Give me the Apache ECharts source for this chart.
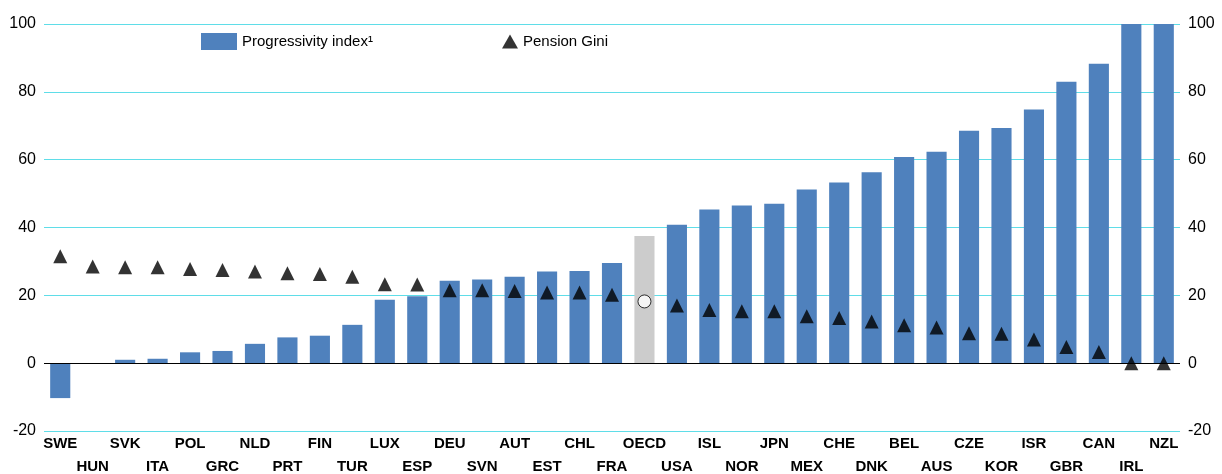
<!DOCTYPE html>
<html><head><meta charset="utf-8">
<script src="https://cdn.jsdelivr.net/npm/echarts@6/dist/echarts.min.js"></script>
<style>html,body{margin:0;padding:0;background:#fff}#c{width:1222px;height:474px}</style>
</head><body><div id="c"></div>
<script>
var countries = ['SWE','HUN','SVK','ITA','POL','GRC','NLD','PRT','FIN','TUR','LUX','ESP','DEU','SVN','AUT','EST','CHL','FRA','OECD','USA','ISL','NOR','JPN','MEX','CHE','DNK','BEL','AUS','CZE','KOR','ISR','GBR','CAN','IRL','NZL'];
var progressivity = [-10.3,0,1,1.3,3.2,3.6,5.7,7.6,8.1,11.3,18.7,19.7,24.3,24.7,25.5,27,27.2,29.5,37.5,40.8,45.3,46.5,47,51.2,53.3,56.3,60.8,62.3,68.5,69.3,74.8,83,88.3,100,100];
var pensionGini = [31.5,28.5,28.3,28.3,27.8,27.5,27,26.5,26.3,25.5,23.3,23.2,21.5,21.5,21.3,20.8,20.8,20.2,18.2,17,15.7,15.3,15.3,13.8,13.3,12.3,11.2,10.5,8.8,8.7,7,4.8,3.3,0,0];

var chart = echarts.init(document.getElementById('c'));
var font = 'Liberation Sans, Arial, sans-serif';
var yAxisCommon = {
  type: 'value', min: -20, max: 100, interval: 20,
  axisLine: {show: false}, axisTick: {show: false},
  axisLabel: {color: '#000', fontSize: 16, fontFamily: font},
  splitLine: {lineStyle: {color: '#5fdde8', width: 1}}
};
var legendText = {fontSize: 15, fontFamily: font, color: '#000'};
chart.setOption({
  animation: false,
  grid: {left: 44, right: 42, top: 24, bottom: 43, outerBoundsMode: 'none'},
  legend: [
    {left: 196, top: 28, itemWidth: 36, itemHeight: 17, itemGap: 8, textStyle: legendText,
     data: [{name: 'Progressivity index¹', icon: 'rect'}]},
    {left: 497, top: 29, itemWidth: 16, itemHeight: 14, textStyle: legendText,
     data: [{name: 'Pension Gini', icon: 'triangle'}]}
  ],
  xAxis: {
    type: 'category', data: countries,
    axisLine: {onZero: false, show: false}, axisTick: {show: false},
    axisLabel: {
      interval: 0, margin: 1, color: '#000', fontSize: 15, fontWeight: 'bold', fontFamily: font, lineHeight: 23,
      formatter: function (v, i) { return i % 2 ? '\n' + v : v; }
    }
  },
  yAxis: [
    Object.assign({}, yAxisCommon, {position: 'left'}),
    Object.assign({}, yAxisCommon, {position: 'right', splitLine: {show: false}})
  ],
  series: [
    {
      name: 'Progressivity index¹', type: 'bar', barWidth: '62%',
      itemStyle: {color: '#4f81bd'},
      data: progressivity.map(function (v, i) {
        return countries[i] === 'OECD' ? {value: v, itemStyle: {color: '#cccccc'}} : v;
      }),
      markLine: {
        silent: true, symbol: 'none', label: {show: false},
        lineStyle: {color: '#000', type: 'solid', width: 1},
        data: [{yAxis: 0}]
      }
    },
    {
      name: 'Pension Gini', type: 'scatter', symbol: 'triangle', symbolSize: 14,
      itemStyle: {color: '#000'}, z: 5,
      data: pensionGini.map(function (v, i) {
        return countries[i] === 'OECD'
          ? {value: v, symbol: 'circle', symbolSize: 13, itemStyle: {color: '#fff', borderColor: '#000', borderWidth: 1}}
          : v;
      })
    }
  ]
});
</script></body></html>
